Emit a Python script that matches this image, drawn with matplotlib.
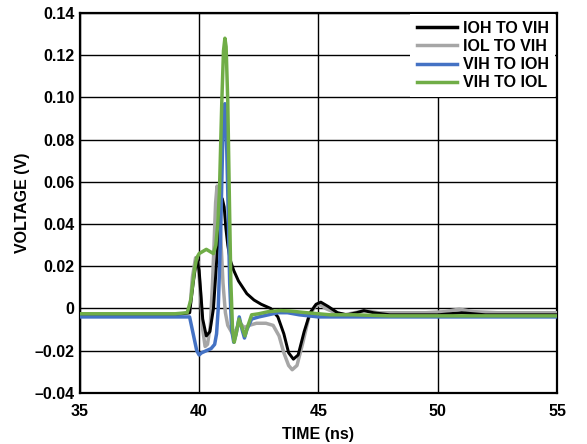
import matplotlib
matplotlib.use("Agg")
import matplotlib.pyplot as plt

plt.rcParams['font.family'] = ['Liberation Sans', 'DejaVu Sans']

# IOH TO VIH (black)
t_ioh_vih = [35, 37, 39, 39.6, 39.75, 39.9, 40.0, 40.15, 40.3, 40.45, 40.6, 40.72, 40.82, 40.9,
             40.97, 41.05, 41.12, 41.2, 41.3, 41.45, 41.65, 42.0, 42.3, 42.6, 43.0, 43.3, 43.55,
             43.75, 43.95, 44.15, 44.4, 44.65, 44.9, 45.1, 45.4, 45.8, 46.2, 46.6, 46.9, 47.3,
             48, 50, 51, 52, 55]
v_ioh_vih = [-0.003, -0.003, -0.003, -0.002, 0.012, 0.024, 0.018, -0.005, -0.013, -0.011, 0.0,
             0.020, 0.038, 0.048, 0.052, 0.048, 0.038, 0.030, 0.023, 0.018, 0.013, 0.007, 0.004,
             0.002, 0.0, -0.004, -0.012, -0.021, -0.024, -0.022, -0.011, -0.002, 0.002, 0.003,
             0.001, -0.002, -0.003, -0.002, -0.001, -0.002, -0.003, -0.003, -0.002, -0.003, -0.003]

# IOL TO VIH (gray)
t_iol_vih = [35, 37, 39, 39.6, 39.72, 39.85, 39.95, 40.05, 40.15, 40.25, 40.35, 40.47, 40.56,
             40.63, 40.69, 40.75, 40.81, 40.9, 41.0, 41.1, 41.2, 41.4, 41.55, 41.7, 41.9, 42.1,
             42.4, 42.8, 43.1, 43.35, 43.55, 43.75, 43.9, 44.1, 44.35, 44.6, 44.85, 45.05, 45.3,
             45.7, 46.1, 46.5, 47.0, 47.5, 48.5, 49.5, 50.3, 50.9, 51.5, 52.5, 55]
v_iol_vih = [-0.003, -0.003, -0.003, -0.002, 0.015, 0.024, 0.022, 0.008, -0.010, -0.018, -0.017,
             -0.008, 0.012, 0.032, 0.050, 0.058, 0.055, 0.035, 0.012, -0.002, -0.008, -0.012,
             -0.010, -0.007, -0.009, -0.008, -0.007, -0.007, -0.008, -0.013, -0.021, -0.027,
             -0.029, -0.027, -0.016, -0.004, 0.001, 0.002, 0.0, -0.002, -0.003, -0.002, -0.001,
             -0.002, -0.002, -0.002, -0.0015, -0.0003, -0.0015, -0.002, -0.002]

# VIH TO IOH (blue)
t_vih_ioh = [35, 37, 39, 39.6, 39.75, 39.9, 40.0, 40.1, 40.3, 40.5, 40.65, 40.73, 40.8, 40.9,
             40.98, 41.04, 41.08, 41.13, 41.2, 41.28, 41.36, 41.45, 41.55, 41.68, 41.8, 41.9,
             42.0, 42.2, 42.5, 42.9, 43.3, 43.7, 44.2, 45, 46, 47, 48, 50, 52, 55]
v_vih_ioh = [-0.004, -0.004, -0.004, -0.004, -0.012, -0.020, -0.022, -0.021, -0.020, -0.019,
             -0.017, -0.012, 0.000, 0.035, 0.075, 0.094, 0.097, 0.088, 0.055, 0.012, -0.010,
             -0.016, -0.012, -0.004, -0.010, -0.014, -0.010, -0.005, -0.004, -0.003, -0.002,
             -0.002, -0.003, -0.004, -0.004, -0.004, -0.004, -0.004, -0.004, -0.004]

# VIH TO IOL (green)
t_vih_iol = [35, 37, 39, 39.5, 39.65, 39.8, 39.9, 40.0, 40.15, 40.3, 40.45, 40.6, 40.7, 40.78,
             40.85, 40.95, 41.02, 41.08, 41.13, 41.2, 41.27, 41.33, 41.4, 41.47, 41.55, 41.67,
             41.8, 41.92, 42.05, 42.2, 42.5, 42.9, 43.4, 43.8, 44.5, 45.5, 46.5, 48, 50, 52, 55]
v_vih_iol = [-0.0025, -0.0025, -0.0025, -0.002, 0.004, 0.018, 0.024, 0.026, 0.027, 0.028, 0.027,
             0.026, 0.030, 0.040, 0.055, 0.098, 0.122, 0.128, 0.124, 0.098, 0.050, 0.012, -0.010,
             -0.016, -0.012, -0.005, -0.009, -0.013, -0.008, -0.003, -0.0025, -0.0015, -0.001,
             -0.0012, -0.002, -0.003, -0.003, -0.0035, -0.0035, -0.0035, -0.0035]

x_ticks = [35, 40, 45, 50, 55]
y_ticks = [-0.04, -0.02, 0, 0.02, 0.04, 0.06, 0.08, 0.10, 0.12, 0.14]
y_tick_labels = ['\u20130.04', '\u20130.02', '0', '0.02', '0.04', '0.06', '0.08', '0.10', '0.12', '0.14']

fig = plt.figure(figsize=(5.87, 4.44), dpi=100)
ax = fig.add_axes([0.136, 0.115, 0.813, 0.856])

lw = 2.5
ax.plot(t_iol_vih, v_iol_vih, color='#A6A6A6', lw=lw, label='IOL TO VIH', zorder=3,
        solid_joinstyle='round')
ax.plot(t_ioh_vih, v_ioh_vih, color='black', lw=lw * 0.85, label='IOH TO VIH', zorder=4,
        solid_joinstyle='round')
ax.plot(t_vih_ioh, v_vih_ioh, color='#4472C4', lw=lw, label='VIH TO IOH', zorder=5,
        solid_joinstyle='round')
ax.plot(t_vih_iol, v_vih_iol, color='#70AD47', lw=lw, label='VIH TO IOL', zorder=6,
        solid_joinstyle='round')

ax.set_xlim(35, 55)
ax.set_ylim(-0.04, 0.14)
ax.set_xticks(x_ticks)
ax.set_xticklabels([str(v) for v in x_ticks], fontweight='bold', fontsize=11.5)
ax.set_yticks(y_ticks)
ax.set_yticklabels(y_tick_labels, fontweight='bold', fontsize=11.5)
ax.tick_params(axis='y', length=0, pad=4)
ax.tick_params(axis='x', length=0, pad=8)
ax.grid(True, color='black', lw=1.0)
ax.set_axisbelow(True)
for s in ax.spines.values():
    s.set_linewidth(1.6)

ax.set_xlabel('TIME (ns)', fontweight='bold', fontsize=11.5, labelpad=6)
ax.set_ylabel('VOLTAGE (V)', fontweight='bold', fontsize=11.5, labelpad=3)

handles, labels = ax.get_legend_handles_labels()
order = [1, 0, 2, 3]
leg = ax.legend([handles[i] for i in order], [labels[i] for i in order],
                loc='upper right', frameon=True, fancybox=False, framealpha=1,
                facecolor='white', edgecolor='none', borderaxespad=0.1,
                handlelength=2.5, handletextpad=0.4, labelspacing=0.2,
                prop={'weight': 'bold', 'size': 11.5})
for line in leg.get_lines():
    line.set_linewidth(2.5)
leg.set_zorder(10)

fig.savefig('out.png', dpi=100)
